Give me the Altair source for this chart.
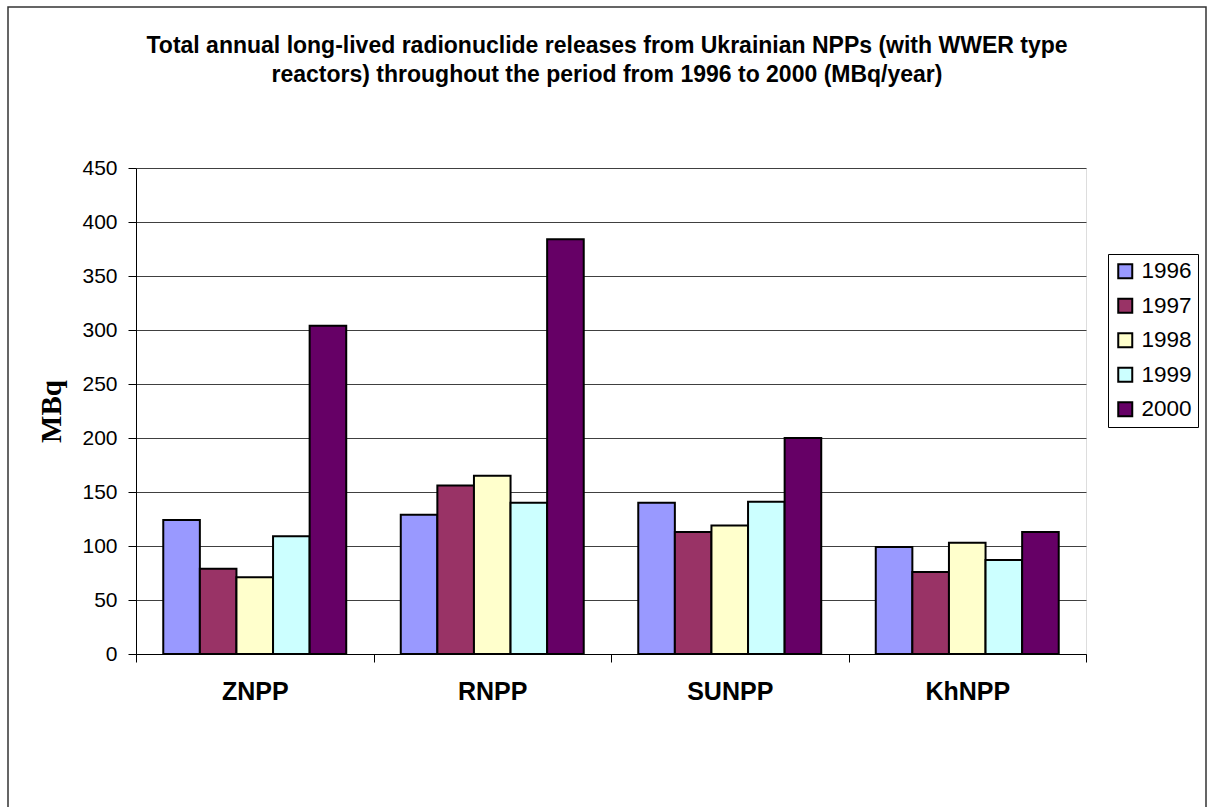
import altair as alt
import pandas as pd

# Nuclear power plants (WWER reactors) and reporting years
plants = ["ZNPP", "RNPP", "SUNPP", "KhNPP"]
years = ["1996", "1997", "1998", "1999", "2000"]

# Annual long-lived radionuclide releases, MBq/year, per plant
v1996 = [124, 129, 140, 99]
v1997 = [79, 156, 113, 76]
v1998 = [71, 165, 119, 103]
v1999 = [109, 140, 141, 87]
v2000 = [304, 384, 200, 113]

year_colors = ["#9999FF", "#993366", "#FFFFCC", "#CCFFFF", "#660066"]

title_lines = [
    "Total annual long-lived radionuclide releases from Ukrainian NPPs (with WWER type",
    "reactors) throughout the period from 1996 to 2000 (MBq/year)",
]

series = {"1996": v1996, "1997": v1997, "1998": v1998, "1999": v1999, "2000": v2000}
rows = []
for yr in years:
    for plant, val in zip(plants, series[yr]):
        rows.append({"plant": plant, "year": yr, "value": val})
df = pd.DataFrame(rows)

FONT = "Liberation Sans"

bars = alt.Chart(df).mark_bar(stroke="black", strokeWidth=2).encode(
    x=alt.X(
        "plant:N",
        sort=plants,
        scale=alt.Scale(paddingInner=0, paddingOuter=0),
        axis=alt.Axis(
            title=None,
            labelAngle=0,
            tickBand="extent",
            domainColor="black",
            tickColor="black",
            tickSize=8,
            labelFont=FONT,
            labelFontSize=25,
            labelFontWeight="bold",
            labelColor="black",
            labelPadding=17,
            grid=False,
        ),
    ),
    xOffset=alt.XOffset(
        "year:N", sort=years, scale=alt.Scale(paddingInner=0, paddingOuter=0.745)
    ),
    y=alt.Y(
        "value:Q",
        scale=alt.Scale(domain=[0, 450], nice=False),
        axis=alt.Axis(
            title="MBq",
            titleFont="Liberation Serif",
            titleFontSize=29,
            titleFontWeight="bold",
            titleColor="black",
            titleAngle=-90,
            titleX=-85,
            titleY=243,
            titleAlign="center",
            titleBaseline="middle",
            values=list(range(0, 451, 50)),
            domainColor="black",
            tickColor="black",
            tickSize=8,
            labelFont=FONT,
            labelFontSize=21,
            labelColor="black",
            labelPadding=11,
            grid=True,
            gridColor="#404040",
            gridWidth=1,
        ),
    ),
    color=alt.Color(
        "year:N",
        sort=years,
        scale=alt.Scale(domain=years, range=year_colors),
        legend=alt.Legend(
            title=None,
            orient="none",
            legendX=972,
            legendY=86,
            padding=6,
            strokeColor="black",
            fillColor="white",
            symbolType="square",
            symbolSize=196,
            symbolStrokeColor="black",
            symbolStrokeWidth=2,
            symbolOpacity=1,
            labelFont=FONT,
            labelFontSize=22.5,
            labelColor="black",
            labelOffset=5,
            rowPadding=11.5,
        ),
    ),
)

# Frame drawn around the whole figure
frame = alt.Chart(alt.Data(values=[{}])).mark_rect(
    filled=False, stroke="#333333", strokeWidth=1.5
).encode(
    x=alt.value(-128),
    x2=alt.value(1070),
    y=alt.value(-161),
    y2=alt.value(680),
)

# Two-line heading above the plot
heading = alt.Chart(alt.Data(values=[{"t": "\n".join(title_lines)}])).mark_text(
    font=FONT,
    fontSize=23,
    fontWeight="bold",
    color="black",
    align="center",
    baseline="alphabetic",
    lineBreak="\n",
    lineHeight=29,
).encode(
    text="t:N",
    x=alt.value(471),
    y=alt.value(-115),
)

chart = alt.layer(frame, heading, bars).properties(
    width=950,
    height=486,
    autosize=alt.AutoSizeParams(type="none"),
    padding={"left": 136, "top": 168, "right": 122, "bottom": 153},
).configure_view(stroke="#808080").configure(background="white")

chart.save("out.html", embed_options={"renderer": "svg", "actions": False})
